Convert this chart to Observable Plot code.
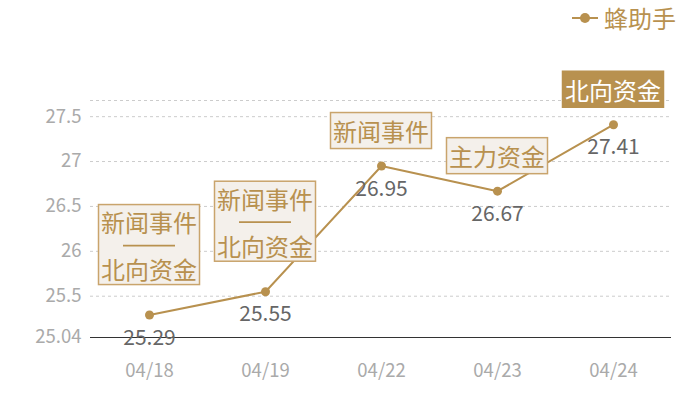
<!DOCTYPE html>
<html>
<head>
<meta charset="utf-8">
<script src="https://cdn.jsdelivr.net/npm/d3@7"></script>
<script src="https://cdn.jsdelivr.net/npm/@observablehq/plot@0.6"></script>
<style>
  html, body { margin: 0; padding: 0; background: #fff; }
  #wrap { position: relative; width: 700px; height: 400px; font-family: "Noto Sans CJK SC", "Noto Sans", sans-serif; }
  #legend { position: absolute; top: 0; left: 0; width: 700px; height: 36px; }
  #legend .item { position: absolute; left: 572px; top: 3px; display: flex; align-items: center; color: #b8914f; font-size: 24px; line-height: 30px; }
  #chart { position: absolute; top: 36px; left: 0; }
</style>
</head>
<body>
<div id="wrap">
  <div id="legend"></div>
  <div id="chart"></div>
</div>
<script>
const dates = ["04/18", "04/19", "04/22", "04/23", "04/24"];
const prices = [25.29, 25.55, 26.95, 26.67, 27.41];
const eventTop = ["新闻事件", "新闻事件", "新闻事件", "主力资金", "北向资金"];
const eventBottom = ["北向资金", "北向资金", "", "", ""];
const highlighted = [false, false, false, false, true];
const yTicks = [25.04, 25.5, 26, 26.5, 27, 27.5];
const yDomain = [25.04, 27.68];
const gridValues = [25.5, 26, 26.5, 27, 27.5, 27.68];
const seriesName = "蜂助手";

const gold = "#b8914f";
const data = dates.map((d, i) => ({date: d, price: prices[i], top: eventTop[i], bottom: eventBottom[i], hl: highlighted[i]}));

// legend
const legend = document.getElementById("legend");
legend.innerHTML = `<div class="item"><svg width="26" height="12" style="margin-right:6px"><line x1="0" x2="26" y1="6" y2="6" stroke="${gold}" stroke-width="2"/><circle cx="13" cy="6" r="5" fill="${gold}"/></svg><span>${seriesName}</span></div>`;

function boxes(index, scales) {
  const g = d3.create("svg:g");
  for (const d of data) {
    const px = scales.x(d.date), py = scales.y(d.price);
    const two = d.bottom !== "";
    const w = 101, h = two ? 80 : 36;
    const bottomGap = two ? 30 : 17;
    const top = py - bottomGap - h;
    const left = px - w / 2;
    g.append("rect")
      .attr("x", left).attr("y", top).attr("width", w).attr("height", h)
      .attr("fill", d.hl ? gold : "#f4f0eb")
      .attr("stroke", d.hl ? gold : "#c9a46c")
      .attr("stroke-width", 1.5);
    const col = d.hl ? "#ffffff" : gold;
    const addText = (t, cy) => g.append("text")
      .attr("x", left + w / 2).attr("y", cy)
      .attr("text-anchor", "middle").attr("dominant-baseline", "central")
      .attr("fill", col).attr("font-size", 24)
      .attr("font-family", '"Noto Sans CJK SC", sans-serif')
      .text(t);
    if (two) {
      addText(d.top, top + 17);
      g.append("line")
        .attr("x1", left + w / 2 - 26).attr("x2", left + w / 2 + 26)
        .attr("y1", top + 41).attr("y2", top + 41)
        .attr("stroke", col).attr("stroke-width", 1.8);
      addText(d.bottom, top + 64);
    } else {
      addText(d.top, top + h / 2);
    }
  }
  return g.node();
}

const chart = Plot.plot({
  width: 700,
  height: 364,
  marginLeft: 90,
  marginRight: 29,
  marginTop: 64,
  marginBottom: 63,
  style: {fontFamily: '"Noto Sans CJK SC", "Noto Sans", sans-serif', background: "transparent"},
  x: {type: "point", domain: dates, padding: 0.5, label: null},
  y: {domain: yDomain, label: null},
  marks: [
    Plot.ruleY(gridValues, {stroke: "#cccccc", strokeDasharray: "3,3", strokeWidth: 1}),
    Plot.ruleY([yDomain[0]], {stroke: "#333333", strokeWidth: 1.2}),
    Plot.axisY({ticks: yTicks, tickFormat: d => String(d), tickSize: 0, tickPadding: 9, fontSize: 18.5, color: "#aaaaaa"}),
    Plot.axisX({tickSize: 0, tickPadding: 26, fontSize: 18.5, color: "#aaaaaa"}),
    Plot.line(data, {x: "date", y: "price", stroke: gold, strokeWidth: 2}),
    Plot.dot(data, {x: "date", y: "price", r: 4.5, fill: gold}),
    Plot.text(data, {x: "date", y: "price", text: d => d.price.toFixed(2), dy: 23, fontSize: 21, fill: "#666666"}),
    boxes
  ]
});
document.getElementById("chart").appendChild(chart);
</script>
</body>
</html>
